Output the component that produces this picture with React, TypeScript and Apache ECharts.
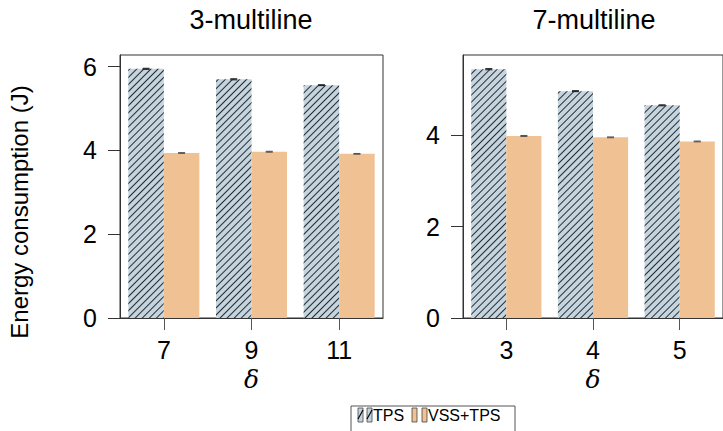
import React, { useEffect, useRef } from "react";
import * as echarts from "echarts";

const categoriesLeft = ["7", "9", "11"];
const categoriesRight = ["3", "4", "5"];
const tpsLeft = [5.95, 5.7, 5.56];
const vssLeft = [3.94, 3.97, 3.92];
const tpsRight = [5.44, 4.96, 4.65];
const vssRight = [3.98, 3.95, 3.86];
const tpsLeftErr = [0.012, 0.012, 0.01];
const vssLeftErr = [0.008, 0.01, 0.008];
const tpsRightErr = [0.012, 0.01, 0.01];
const vssRightErr = [0.01, 0.008, 0.008];
const yTicksLeft = [0, 2, 4, 6];
const yTicksRight = [0, 2, 4];
const panelTitles = ["3-multiline", "7-multiline"];
const seriesNames = ["TPS", "VSS+TPS"];

const TPS_COLOR = "#c4d5e0";
const VSS_COLOR = "#efc193";
const FONT = "'Liberation Sans', Arial, Helvetica, sans-serif";

const decal = {
  symbol: "rect",
  symbolSize: 0.8,
  dashArrayX: [1, 0],
  dashArrayY: [1, 3.4],
  rotation: -Math.PI / 4,
  color: "#000",
};

function errSeries(gridIdx: number, values: number[], errs: number[], side: number, color: string) {
  return {
    type: "custom",
    xAxisIndex: gridIdx,
    yAxisIndex: gridIdx,
    silent: true,
    z: 5,
    data: values.map((v, i) => [i, v, errs[i]]),
    renderItem: (params: any, api: any) => {
      const idx = api.value(0);
      const v = api.value(1);
      const e = api.value(2);
      const band = api.size([1, 0])[0];
      const bw = band * 0.405;
      const c = api.coord([idx, v]);
      const x = c[0] + side * bw / 2;
      const top = api.coord([idx, v + e])[1];
      const bot = api.coord([idx, v - e])[1];
      const hw = 3.5;
      const st = { stroke: color, lineWidth: 1.1 };
      return {
        type: "group",
        children: [
          { type: "line", shape: { x1: x, y1: top, x2: x, y2: bot }, style: st },
          { type: "line", shape: { x1: x - hw, y1: top, x2: x + hw, y2: top }, style: st },
          { type: "line", shape: { x1: x - hw, y1: bot, x2: x + hw, y2: bot }, style: st },
        ],
      };
    },
  };
}

export default function App() {
  const ref = useRef<HTMLDivElement>(null);
  useEffect(() => {
    if (!ref.current) return;
    const chart = echarts.init(ref.current, undefined, { renderer: "svg" });
    const grids = [
      { left: 120, top: 55, width: 263, height: 263 },
      { left: 463, top: 55, width: 263, height: 263 },
    ].map((g) => ({ ...g, show: true, borderColor: "#333", borderWidth: 1, backgroundColor: "transparent" }));

    const xAxisBase = {
      type: "category",
      boundaryGap: true,
      axisLine: { show: true, lineStyle: { color: "#333", width: 1 } },
      axisTick: { show: true, alignWithLabel: true, length: 12, lineStyle: { color: "#555" } },
      axisLabel: { fontSize: 25, color: "#000", margin: 19, fontFamily: FONT },
      name: "δ",
      nameLocation: "middle",
      nameGap: 48,
      nameTextStyle: { fontSize: 25, fontStyle: "italic", fontFamily: "'DejaVu Serif', 'Liberation Serif', serif", color: "#000" },
    };
    const yAxisBase = {
      type: "value",
      min: 0,
      interval: 2,
      splitLine: { show: false },
      axisLine: { show: true, lineStyle: { color: "#333" } },
      axisLabel: { fontSize: 25, color: "#000", margin: 23, fontFamily: FONT },
    };

    const barSeries = (gridIdx: number, name: string, data: number[], color: string, hatch: boolean) => ({
      type: "bar",
      name,
      xAxisIndex: gridIdx,
      yAxisIndex: gridIdx,
      data,
      barWidth: "40.5%",
      barGap: "0%",
      itemStyle: hatch ? { color, decal } : { color },
    });

    const legendX = 351;
    const legendGraphic: any[] = [
      { type: "rect", shape: { x: legendX, y: 406, width: 164, height: 32 }, style: { fill: "#fff", stroke: "#555", lineWidth: 1 } },
    ];
    const iconPos = [
      [358, 367, 373, TPS_COLOR, true, seriesNames[0]],
      [412, 422, 428, VSS_COLOR, false, seriesNames[1]],
    ];
    iconPos.forEach(([a, b, tx, col, hatch, label]: any) => {
      [a, b].forEach((ix: number) => {
        legendGraphic.push({ type: "rect", shape: { x: ix, y: 408, width: 5, height: 14 }, style: { fill: col, stroke: "#444", lineWidth: 0.8 } });
        if (hatch) {
          legendGraphic.push({ type: "line", shape: { x1: ix, y1: 419, x2: ix + 5, y2: 410 }, style: { stroke: "#000", lineWidth: 1.2 } });
        }
      });
      legendGraphic.push({ type: "text", x: tx, y: 415, style: { text: label, fontSize: 16, fontFamily: FONT, fill: "#000", textAlign: "left", textVerticalAlign: "middle" } });
    });

    chart.setOption({
      animation: false,
      backgroundColor: "#fff",
      grid: grids,
      xAxis: [
        { ...xAxisBase, gridIndex: 0, data: categoriesLeft },
        { ...xAxisBase, gridIndex: 1, data: categoriesRight },
      ],
      yAxis: [
        { ...yAxisBase, gridIndex: 0, max: 6.28, axisTick: { show: true, length: 12, customValues: yTicksLeft, lineStyle: { color: "#333" } }, axisLabel: { ...yAxisBase.axisLabel, customValues: yTicksLeft } },
        { ...yAxisBase, gridIndex: 1, max: 5.75, axisTick: { show: true, length: 12, customValues: yTicksRight, lineStyle: { color: "#333" } }, axisLabel: { ...yAxisBase.axisLabel, customValues: yTicksRight } },
      ],
      series: [
        barSeries(0, seriesNames[0], tpsLeft, TPS_COLOR, true),
        barSeries(0, seriesNames[1], vssLeft, VSS_COLOR, false),
        barSeries(1, seriesNames[0], tpsRight, TPS_COLOR, true),
        barSeries(1, seriesNames[1], vssRight, VSS_COLOR, false),
        errSeries(0, tpsLeft, tpsLeftErr, -1, "#222"),
        errSeries(0, vssLeft, vssLeftErr, 1, "#555"),
        errSeries(1, tpsRight, tpsRightErr, -1, "#222"),
        errSeries(1, vssRight, vssRightErr, 1, "#555"),
      ],
      graphic: [
        { type: "text", x: 251, y: 20, style: { text: panelTitles[0], fontSize: 27, fontFamily: FONT, fill: "#000", textAlign: "center", textVerticalAlign: "middle" } },
        { type: "text", x: 594, y: 20, style: { text: panelTitles[1], fontSize: 27, fontFamily: FONT, fill: "#000", textAlign: "center", textVerticalAlign: "middle" } },
        { type: "text", x: 19, y: 212, rotation: Math.PI / 2, style: { text: "Energy consumption (J)", fontSize: 24, fontFamily: FONT, fill: "#000", textAlign: "center", textVerticalAlign: "middle" } },
        ...legendGraphic,
      ],
    });
    return () => chart.dispose();
  }, []);
  return <div ref={ref} style={{ width: 723, height: 431, position: "absolute", left: 0, top: 0 }} />;
}
